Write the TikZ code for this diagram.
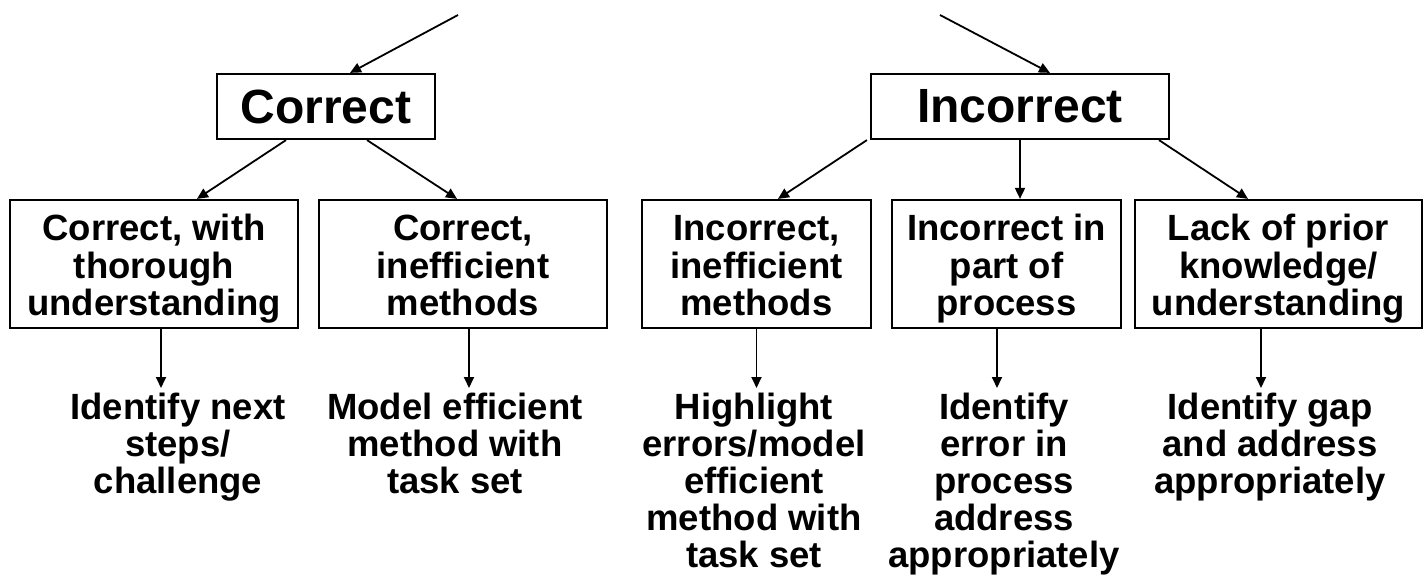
\documentclass[tikz,border=0pt]{standalone}
\usepackage{fontspec}
\setmainfont{Liberation Sans}
\usetikzlibrary{arrows.meta}

\begin{document}
\begin{tikzpicture}[x=1pt, y=-1pt, line join=miter,
		head_style/.style={rectangle,draw=black,line width=2.2pt,minimum height=65pt,inner sep=0pt,font=\fontsize{48}{50}\selectfont\bfseries},
		node_style/.style={rectangle,draw=black,line width=2.2pt,minimum height=128pt,inner sep=0pt,align=center,font=\fontsize{36.5}{37.5}\selectfont\bfseries,
			execute at begin node={\rule{0pt}{111pt}},execute at end node={\rule[-8pt]{0pt}{8pt}}},
		text_style/.style={anchor=north,inner xsep=0pt,inner ysep=5pt,align=center,font=\fontsize{36.5}{37}\selectfont\bfseries},
		edge_style/.style={draw=black,line width=1.8pt,-{Triangle[length=11pt,width=10pt]}}]

		\useasboundingbox (0,0) rectangle (1428,575);

		% top level
		\coordinate (s1) at (458,15);
		\coordinate (s2) at (940,15);
		\node[head_style,minimum width=218pt] (cor) at (326,106.5) {Correct};
		\node[head_style,minimum width=298pt] (inc) at (1020,106.5) {Incorrect};

		% second level
		\node[node_style,minimum width=288pt] (b1) at (154,264) {Correct, with\\thorough\\understanding};
		\node[node_style,minimum width=288pt] (b2) at (463,264) {Correct,\\inefficient\\methods};
		\node[node_style,minimum width=229pt] (b3) at (756.5,264) {Incorrect,\\inefficient\\methods};
		\node[node_style,minimum width=229pt] (b4) at (1006.5,264) {Incorrect in\\part of\\process};
		\node[node_style,minimum width=287pt] (b5) at (1278.5,264) {Lack of prior\\knowledge/\\understanding};

		% actions
		\node[text_style] (t1) at (178,388) {Identify next\\steps/\\challenge};
		\node[text_style] (t2) at (455,388) {Model efficient\\method with\\task set};
		\node[text_style] (t3) at (754,388) {Highlight\\errors/model\\efficient\\method with\\task set};
		\node[text_style] (t4) at (1004,388) {Identify\\error in\\process\\address\\appropriately};
		\node[text_style] (t5) at (1270,388) {Identify gap\\and address\\appropriately};

		\draw[edge_style] (s1) -- ([xshift=24pt]cor.north);
		\draw[edge_style] (s2) -- ([xshift=30pt]inc.north);
		\draw[edge_style] ([xshift=-40pt]cor.south) -- ([xshift=43pt]b1.north);
		\draw[edge_style] ([xshift=41pt]cor.south) -- ([xshift=-6pt]b2.north);
		\draw[edge_style] ([xshift=-3pt]inc.south west) -- ([xshift=21.5pt]b3.north);
		\draw[edge_style] (inc.south) -- (inc.south |- b4.north);
		\draw[edge_style] ([xshift=139pt]inc.south) -- ([xshift=-30.5pt]b5.north);

		\coordinate (a1) at ([xshift=7pt]b1.south);
		\coordinate (a2) at ([xshift=6pt]b2.south);
		\coordinate (a3) at (b3.south);
		\coordinate (a4) at ([xshift=-9.5pt]b4.south);
		\coordinate (a5) at ([xshift=-17.5pt]b5.south);
		\draw[edge_style] (a1) -- (a1 |- t1.north);
		\draw[edge_style] (a2) -- (a2 |- t2.north);
		\draw[edge_style] (a3) -- (a3 |- t3.north);
		\draw[edge_style] (a4) -- (a4 |- t4.north);
		\draw[edge_style] (a5) -- (a5 |- t5.north);
\end{tikzpicture}
\end{document}
